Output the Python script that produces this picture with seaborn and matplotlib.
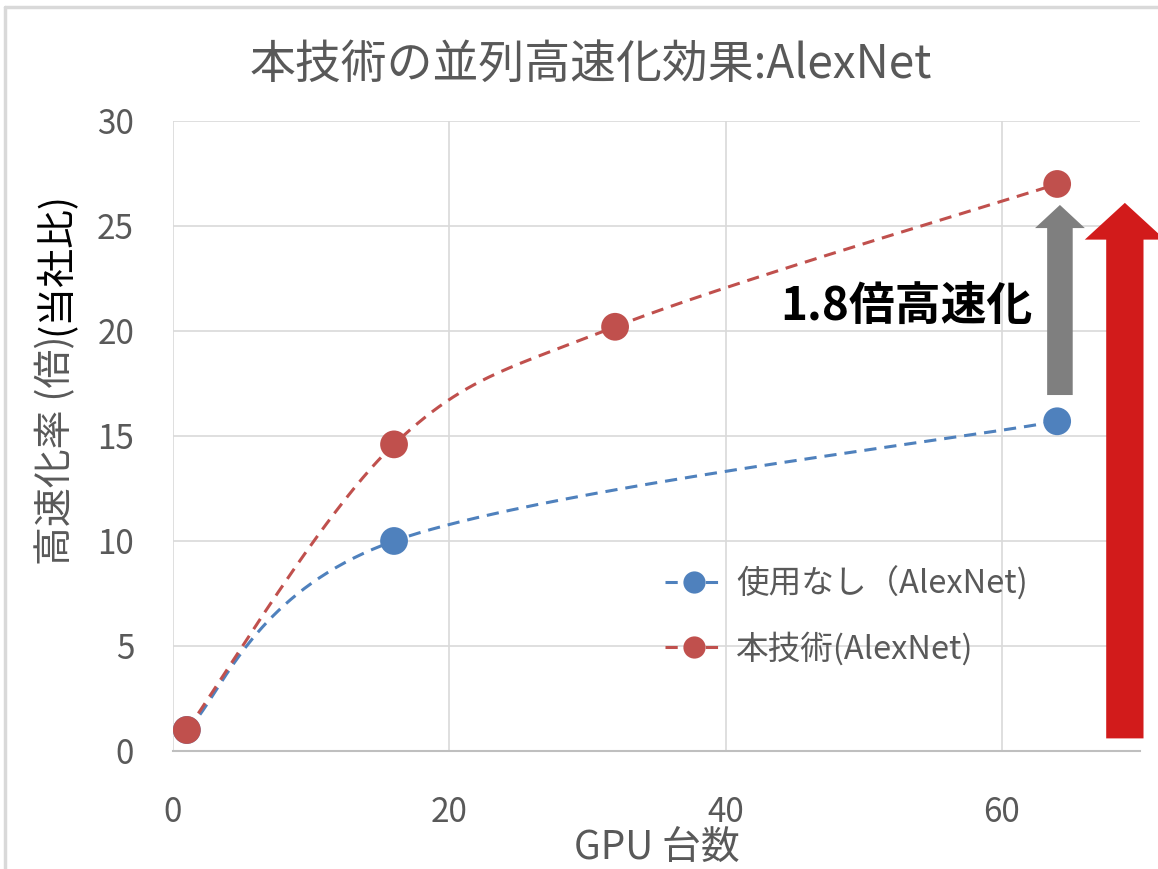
import numpy as np
import pandas as pd
import matplotlib
matplotlib.use("Agg")
import matplotlib.pyplot as plt
from matplotlib.lines import Line2D
from matplotlib.patches import FancyArrow
import seaborn as sns

# Speed-up measurements (relative to 1 GPU)
gpus_base = [1, 16, 64]
speed_base = [1.0, 10.0, 15.7]
gpus_ours = [1, 16, 32, 64]
speed_ours = [1.0, 14.6, 20.2, 27.0]

series_labels = ["使用なし（AlexNet)", "本技術(AlexNet)"]
x_ticks = [0, 20, 40, 60]
y_ticks = [0, 5, 10, 15, 20, 25, 30]

title = "本技術の並列高速化効果:AlexNet"
x_label = "GPU 台数"
y_label_main = "高速化率 (倍)"
y_label_note = "(当社比)"
gain_text = "1.8倍高速化"

BLUE = "#4F81BD"
RED = "#C0504D"
GREY_TXT = "#595959"
DASH = (4, 2.6)
LW = 2.2

sns.set_theme(style="white")
plt.rcParams["font.family"] = ["Noto Sans CJK JP", "DejaVu Sans"]


def smooth_curve(xs, ys, n=80):
    """Bezier smoothing through every point (spreadsheet-style smoothed line)."""
    P = np.column_stack([xs, ys]).astype(float)
    out = []
    for i in range(len(P) - 1):
        p0 = P[i - 1] if i > 0 else P[i]
        p1, p2 = P[i], P[i + 1]
        p3 = P[i + 2] if i + 2 < len(P) else P[i + 1]
        c1 = p1 + (p2 - p0) / 6.0
        c2 = p2 - (p3 - p1) / 6.0
        t = np.linspace(0, 1, n)[:, None]
        seg = (1 - t) ** 3 * p1 + 3 * (1 - t) ** 2 * t * c1 + 3 * (1 - t) * t ** 2 * c2 + t ** 3 * p2
        out.append(seg if i == 0 else seg[1:])
    return np.vstack(out)


fig = plt.figure(figsize=(11.58, 8.69), dpi=100)
ax = fig.add_axes([0.1494, 0.1358, 0.8351, 0.725])

for xs, ys, color, label in [(gpus_base, speed_base, BLUE, series_labels[0]),
                             (gpus_ours, speed_ours, RED, series_labels[1])]:
    curve = smooth_curve(xs, ys)
    cdf = pd.DataFrame({"x": curve[:, 0], "y": curve[:, 1]})
    sns.lineplot(data=cdf, x="x", y="y", ax=ax, sort=False, estimator=None,
                 color=color, linewidth=LW, dashes=False, zorder=3)
    ax.lines[-1].set_dashes(DASH)
    pdf = pd.DataFrame({"x": xs, "y": ys})
    sns.scatterplot(data=pdf, x="x", y="y", ax=ax, color=color, s=400,
                    edgecolor="none", linewidth=0, zorder=4)

ax.set_xlim(0, 70)
ax.set_ylim(0, 30)
ax.set_xticks(x_ticks)
ax.set_yticks(y_ticks)
ax.grid(True, color="#d9d9d9", linewidth=1.2)
ax.set_axisbelow(True)
for s in ["top", "right", "left"]:
    ax.spines[s].set_visible(False)
ax.spines["bottom"].set_color("#bfbfbf")
ax.spines["bottom"].set_linewidth(1.5)
ax.tick_params(axis="both", length=0, labelsize=24, labelcolor=GREY_TXT)
ax.tick_params(axis="y", pad=28)
ax.tick_params(axis="x", pad=32)
ax.set_xlabel(x_label, fontsize=28, color=GREY_TXT, labelpad=-2)
ax.set_ylabel("")

fig.text(0.51, 0.926, title, ha="center", va="center", fontsize=33, color=GREY_TXT)

# gain annotation arrows
ax.add_patch(FancyArrow(64.2, 16.95, 0, 26.0 - 16.95, width=1.85, head_width=3.6,
                        head_length=1.1, length_includes_head=True,
                        color="#7F7F7F", linewidth=0, zorder=5))
ax.add_patch(FancyArrow(68.9, 0.6, 0, 26.1 - 0.6, width=2.7, head_width=5.8,
                        head_length=1.75, length_includes_head=True,
                        color="#D21B1B", linewidth=0, zorder=5, clip_on=False))
ax.text(53.1, 21.15, gain_text, ha="center", va="center", fontsize=33,
        fontweight="bold", color="black", zorder=6)

handles = [Line2D([], [], color=BLUE, linestyle=(0, DASH), linewidth=LW,
                  marker="o", markersize=16, markeredgewidth=0),
           Line2D([], [], color=RED, linestyle=(0, DASH), linewidth=LW,
                  marker="o", markersize=16, markeredgewidth=0)]
leg = ax.legend(handles, series_labels, loc="upper left", bbox_to_anchor=(0.478, 0.34),
                frameon=False, fontsize=23.5, handlelength=1.8, handletextpad=0.4,
                labelspacing=0.95)
for t in leg.get_texts():
    t.set_color(GREY_TXT)

# two-tone vertical axis title
fig.canvas.draw()
ylab1 = fig.text(0.048, 0.35, y_label_main, rotation=90, ha="center", va="bottom",
                 fontsize=28, color=GREY_TXT)
fig.canvas.draw()
bb = ylab1.get_window_extent()
top_frac = bb.y1 / fig.bbox.height
fig.text(0.048, top_frac, y_label_note, rotation=90, ha="center", va="bottom",
         fontsize=28, color="black")

# chart-area border
fig.add_artist(Line2D([0.004, 1.0], [0.992, 0.992], color="#d9d9d9", linewidth=2.5,
                      transform=fig.transFigure))
fig.add_artist(Line2D([0.004, 0.004], [0.0, 0.992], color="#d9d9d9", linewidth=2.5,
                      transform=fig.transFigure))

fig.savefig("out.png", dpi=100)
